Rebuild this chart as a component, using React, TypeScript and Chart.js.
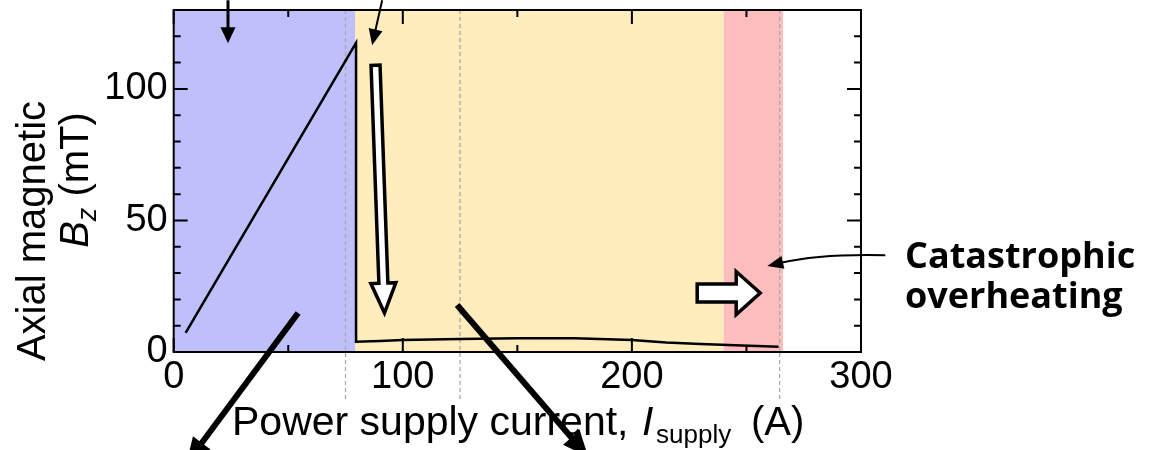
import React, { useEffect, useRef } from "react";
import { Chart, registerables } from "chart.js";

Chart.register(...registerables);

// ---- data ----
const CURRENT = [5.2, 79.6, 79.6, 90, 100, 125, 150, 175, 200, 215, 230, 245, 264];
const FIELD = [7.3, 117.5, 3.9, 4.2, 4.6, 4.9, 5.2, 5.2, 4.6, 3.6, 3.0, 2.6, 2.0];

const X_TICKS = [0, 100, 200, 300];
const X_MINOR = [50, 150, 250];
const Y_TICKS = [0, 50, 100];
const Y_MINOR = [10, 20, 30, 40, 60, 70, 80, 90, 110, 120];

const REGION_EDGES = [0, 79.3, 240, 266];
const REGION_COLORS = ["rgb(191,191,252)", "rgb(255,237,190)", "rgb(255,190,190)"];
const DASHED_X = [75, 125, 264.5];
const DASH_BOTTOM = -18.6;

const SANS = "'Liberation Sans', Arial, sans-serif";
const BOLD = "'Open Sans', 'Noto Sans', sans-serif";

type P = [number, number];

function toPx(chart: any, p: P): P {
  return [chart.scales.x.getPixelForValue(p[0]), chart.scales.y.getPixelForValue(p[1])];
}

function solidArrow(ctx: CanvasRenderingContext2D, a: P, b: P, lw: number, hl: number, hw: number) {
  const dx = b[0] - a[0], dy = b[1] - a[1];
  const L = Math.hypot(dx, dy);
  const ux = dx / L, uy = dy / L;
  const nx = -uy, ny = ux;
  const bx = b[0] - ux * hl, by = b[1] - uy * hl;
  ctx.save();
  ctx.strokeStyle = "#000";
  ctx.fillStyle = "#000";
  ctx.lineWidth = lw;
  ctx.lineCap = "butt";
  ctx.beginPath();
  ctx.moveTo(a[0], a[1]);
  ctx.lineTo(bx + ux * 2, by + uy * 2);
  ctx.stroke();
  ctx.beginPath();
  ctx.moveTo(b[0], b[1]);
  ctx.lineTo(bx + nx * hw / 2, by + ny * hw / 2);
  ctx.lineTo(bx - nx * hw / 2, by - ny * hw / 2);
  ctx.closePath();
  ctx.fill();
  ctx.restore();
}

function hollowArrow(ctx: CanvasRenderingContext2D, a: P, b: P, sw: number, hw: number, hl: number) {
  const dx = b[0] - a[0], dy = b[1] - a[1];
  const L = Math.hypot(dx, dy);
  const ux = dx / L, uy = dy / L;
  const nx = -uy, ny = ux;
  const bx = b[0] - ux * hl, by = b[1] - uy * hl;
  ctx.save();
  ctx.beginPath();
  ctx.moveTo(a[0] + nx * sw / 2, a[1] + ny * sw / 2);
  ctx.lineTo(bx + nx * sw / 2, by + ny * sw / 2);
  ctx.lineTo(bx + nx * hw / 2, by + ny * hw / 2);
  ctx.lineTo(b[0], b[1]);
  ctx.lineTo(bx - nx * hw / 2, by - ny * hw / 2);
  ctx.lineTo(bx - nx * sw / 2, by - ny * sw / 2);
  ctx.lineTo(a[0] - nx * sw / 2, a[1] - ny * sw / 2);
  ctx.closePath();
  ctx.fillStyle = "#fff";
  ctx.fill();
  ctx.strokeStyle = "#000";
  ctx.lineWidth = 3.5;
  ctx.lineJoin = "miter";
  ctx.stroke();
  ctx.restore();
}

const decorPlugin = {
  id: "decor",
  beforeDatasetsDraw(chart: any) {
    const { ctx, chartArea: a, scales } = chart;
    const x = scales.x, y = scales.y;
    ctx.save();
    for (let i = 0; i < REGION_COLORS.length; i++) {
      const x0 = x.getPixelForValue(REGION_EDGES[i]);
      const x1 = x.getPixelForValue(REGION_EDGES[i + 1]);
      ctx.fillStyle = REGION_COLORS[i];
      ctx.fillRect(x0, a.top, x1 - x0, a.bottom - a.top);
    }
    ctx.strokeStyle = "#a9a9a9";
    ctx.lineWidth = 1.3;
    ctx.setLineDash([4, 3]);
    const yb = y.getPixelForValue(DASH_BOTTOM);
    for (const v of DASHED_X) {
      const px = x.getPixelForValue(v);
      ctx.beginPath();
      ctx.moveTo(px, a.top);
      ctx.lineTo(px, yb);
      ctx.stroke();
    }
    ctx.restore();
  },
  afterDraw(chart: any) {
    const { ctx, chartArea: a, scales } = chart;
    const x = scales.x, y = scales.y;
    ctx.save();
    // frame
    ctx.strokeStyle = "#000";
    ctx.lineWidth = 2;
    ctx.strokeRect(a.left, a.top, a.right - a.left, a.bottom - a.top);
    // inward ticks on all four sides
    const MAJ = 14, MIN = 7;
    ctx.beginPath();
    const xt = (v: number, len: number) => {
      const px = x.getPixelForValue(v);
      ctx.moveTo(px, a.bottom); ctx.lineTo(px, a.bottom - len);
      ctx.moveTo(px, a.top); ctx.lineTo(px, a.top + len);
    };
    const yt = (v: number, len: number) => {
      const py = y.getPixelForValue(v);
      ctx.moveTo(a.left, py); ctx.lineTo(a.left + len, py);
      ctx.moveTo(a.right, py); ctx.lineTo(a.right - len, py);
    };
    X_TICKS.forEach(v => xt(v, MAJ));
    X_MINOR.forEach(v => xt(v, MIN));
    Y_TICKS.forEach(v => yt(v, MAJ));
    Y_MINOR.forEach(v => yt(v, MIN));
    ctx.stroke();

    // annotations (in data units)
    const P = (p: P) => toPx(chart, p);
    solidArrow(ctx, P([23.7, 133.7]), P([23.7, 117.4]), 3, 16, 15);
    solidArrow(ctx, P([91.0, 133.7]), P([86.6, 116.6]), 2, 16, 14);
    hollowArrow(ctx, P([88.1, 109.0]), P([92.0, 14.8]), 9, 25, 30);
    hollowArrow(ctx, P([228.5, 22.4]), P([256.0, 22.4]), 18, 43, 24);
    solidArrow(ctx, P([54.3, 14.8]), P([5.5, -42.5]), 6, 26, 22);
    solidArrow(ctx, P([123.7, 17.85]), P([181.0, -40.0]), 6, 26, 22);
    // curved arrow
    {
      const s = P([310.6, 36.8]);
      const c = P([282.2, 37.4]);
      const t = P([259.1, 32.7]);
      const dx = t[0] - c[0], dy = t[1] - c[1];
      const L = Math.hypot(dx, dy);
      const ux = dx / L, uy = dy / L;
      const hl = 16, hw = 13;
      const bx = t[0] - ux * hl, by = t[1] - uy * hl;
      ctx.beginPath();
      ctx.lineWidth = 2;
      ctx.moveTo(s[0], s[1]);
      ctx.quadraticCurveTo(c[0], c[1], bx + ux * 2, by + uy * 2);
      ctx.stroke();
      ctx.beginPath();
      ctx.fillStyle = "#000";
      ctx.moveTo(t[0], t[1]);
      ctx.lineTo(bx - uy * hw / 2, by + ux * hw / 2);
      ctx.lineTo(bx + uy * hw / 2, by - ux * hw / 2);
      ctx.closePath();
      ctx.fill();
    }

    // side text
    ctx.fillStyle = "#000";
    ctx.textAlign = "left";
    ctx.textBaseline = "alphabetic";
    ctx.font = `bold 36px ${BOLD}`;
    ctx.fillText("Catastrophic", 905, 268);
    ctx.fillText("overheating", 905, 308);

    // x-axis title
    ctx.font = `41px ${SANS}`;
    ctx.fillText("Power supply current,", 232, 435);
    ctx.font = `italic 41px ${SANS}`;
    ctx.fillText("I", 642, 435);
    ctx.font = `26px ${SANS}`;
    ctx.fillText("supply", 656, 443);
    ctx.font = `40px ${SANS}`;
    ctx.fillText("(A)", 751, 435);

    // y-axis title
    ctx.save();
    ctx.translate(45, 231);
    ctx.rotate(-Math.PI / 2);
    ctx.textAlign = "center";
    ctx.font = `40px ${SANS}`;
    ctx.fillText("Axial magnetic", 0, 0);
    ctx.restore();

    ctx.save();
    ctx.translate(88, 180);
    ctx.rotate(-Math.PI / 2);
    ctx.textAlign = "left";
    const segs: [string, string, number][] = [
      ["B", `italic 40px ${SANS}`, 0],
      ["z", `italic 27px ${SANS}`, 8],
      [" (mT)", `40px ${SANS}`, 0],
    ];
    let total = 0;
    for (const [t, f] of segs) { ctx.font = f; total += ctx.measureText(t).width; }
    let cx = -total / 2;
    for (const [t, f, dy] of segs) {
      ctx.font = f;
      ctx.fillText(t, cx, dy);
      cx += ctx.measureText(t).width;
    }
    ctx.restore();

    ctx.restore();
  },
};

export default function App() {
  const ref = useRef<HTMLCanvasElement | null>(null);
  useEffect(() => {
    if (!ref.current) return;
    const chart = new Chart(ref.current, {
      type: "line",
      data: {
        datasets: [
          {
            data: CURRENT.map((c, i) => ({ x: c, y: FIELD[i] })),
            borderColor: "#000",
            borderWidth: 2.5,
            pointRadius: 0,
            tension: 0,
            fill: false,
          },
        ],
      },
      options: {
        animation: false,
        responsive: false,
        events: [],
        layout: { padding: { left: 0, top: 10, right: 298, bottom: 0 } },
        plugins: { legend: { display: false }, tooltip: { enabled: false } },
        scales: {
          x: {
            type: "linear",
            min: 0,
            max: 300,
            grid: { display: false, drawTicks: false },
            border: { display: false },
            afterBuildTicks: (s: any) => { s.ticks = X_TICKS.map(v => ({ value: v })); },
            afterFit: (s: any) => { s.height = 98; s.paddingLeft = 0; s.paddingRight = 0; },
            ticks: { font: { family: SANS, size: 38 }, color: "#000", padding: 3, maxRotation: 0, autoSkip: false },
          },
          y: {
            type: "linear",
            min: 0,
            max: 130,
            grid: { display: false, drawTicks: false },
            border: { display: false },
            afterBuildTicks: (s: any) => { s.ticks = Y_TICKS.map(v => ({ value: v })); },
            afterFit: (s: any) => { s.width = 173.7; s.paddingTop = 0; s.paddingBottom = 0; },
            ticks: { font: { family: SANS, size: 38 }, color: "#000", padding: 6, autoSkip: false },
          },
        },
      } as any,
      plugins: [decorPlugin],
    });
    return () => chart.destroy();
  }, []);
  return (
    <div style={{ position: "fixed", left: 0, top: 0, width: 1159, height: 450, background: "#fff" }}>
      <canvas ref={ref} width={1159} height={450} style={{ display: "block" }} />
    </div>
  );
}
